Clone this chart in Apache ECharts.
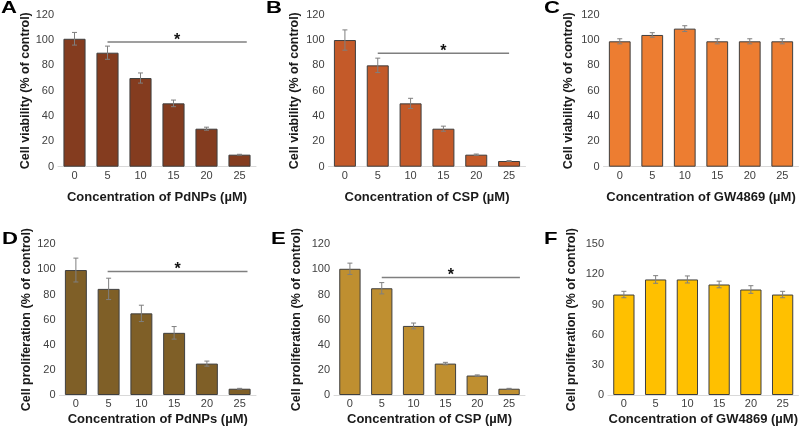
<!DOCTYPE html>
<html>
<head>
<meta charset="utf-8">
<script src="https://cdn.jsdelivr.net/npm/echarts@6/dist/echarts.min.js"></script>
<style>
html,body{margin:0;padding:0;background:#fff;}
#chart{width:800px;height:427px;}
</style>
</head>
<body>
<div id="chart"></div>
<script>
// ---- data ----
const categories = ['0', '5', '10', '15', '20', '25'];

const valuesA = [101, 90, 70, 50, 30, 9.5];
const errorsA = [5, 5.2, 4, 2.6, 1.2, 0.3];
const valuesB = [100, 80, 50, 30, 9.5, 4.5];
const errorsB = [8, 5.7, 4, 2, 0.5, 0.3];
const valuesC = [99, 104, 109, 99, 99, 99];
const errorsC = [2, 1.8, 2.3, 2, 2, 2];
const valuesD = [99.5, 84.5, 65, 49.5, 25, 5];
const errorsD = [9.5, 8.5, 6.5, 5, 2, 0.3];
const valuesE = [100.5, 85, 55, 25, 15.5, 5];
const errorsE = [4.5, 4.5, 2.3, 1, 0.5, 0.3];
const valuesF = [100, 115, 115, 110, 105, 100];
const errorsF = [3.2, 3.8, 3.5, 3.3, 3.8, 3.2];

// significance brackets: [start category, end category, height]
const sigA = [1, 5.22, 98.4];
const sigB = [1, 5.0, 89.5];
const sigD = [0.97, 5.24, 98.3];
const sigE = [1, 5.34, 93.5];

const yTicksTop = [0, 20, 40, 60, 80, 100, 120];
const yTicksF = [0, 30, 60, 90, 120, 150];

const yNameViability = 'Cell viability (% of control)';
const yNameProliferation = 'Cell proliferation (% of control)';
const xNames = ['Concentration of PdNPs (µM)', 'Concentration of CSP (µM)', 'Concentration of GW4869 (µM)'];
const panelLetters = ['A', 'B', 'C', 'D', 'E', 'F'];

// ---- layout / style ----
const FONT = '"Liberation Sans", Arial, Helvetica, sans-serif';
const panels = [
  {vals: valuesA, errs: errorsA, sig: sigA, color: '#843C1F', yName: yNameViability, xName: xNames[0], ticks: yTicksTop,
   grid: {left: 58, top: 14.7, width: 198, height: 152}, yGap: 25, xGap: 24, lblMargin: 4},
  {vals: valuesB, errs: errorsB, sig: sigB, color: '#C45A29', yName: yNameViability, xName: xNames[1], ticks: yTicksTop,
   grid: {left: 328.5, top: 14.7, width: 197, height: 152}, yGap: 27, xGap: 24, lblMargin: 4},
  {vals: valuesC, errs: errorsC, sig: null, color: '#ED7D31', yName: yNameViability, xName: xNames[2], ticks: yTicksTop,
   grid: {left: 603.5, top: 14.7, width: 195, height: 152}, yGap: 28, xGap: 24, lblMargin: 4},
  {vals: valuesD, errs: errorsD, sig: sigD, color: '#7F5F27', yName: yNameProliferation, xName: xNames[0], ticks: yTicksTop,
   grid: {left: 59.5, top: 244.3, width: 196.5, height: 151.4}, yGap: 25.5, xGap: 18, lblMargin: 3},
  {vals: valuesE, errs: errorsE, sig: sigE, color: '#BF8F30', yName: yNameProliferation, xName: xNames[1], ticks: yTicksTop,
   grid: {left: 334, top: 244.3, width: 191, height: 151.4}, yGap: 31, xGap: 18, lblMargin: 3},
  {vals: valuesF, errs: errorsF, sig: null, color: '#FFC000', yName: yNameProliferation, xName: xNames[2], ticks: yTicksF,
   grid: {left: 608, top: 244.3, width: 191, height: 151.4}, yGap: 30, xGap: 18, lblMargin: 3}
];
const letterPos = [[1, 0], [266, 0], [544, 0], [2, 231], [271, 231], [544, 231]];

const grids = [], xAxes = [], yAxes = [], series = [];

function errRender(params, api) {
  const i = api.value(0), m = api.value(1), e = api.value(2);
  const hi = api.coord([i, m + e]);
  const lo = api.coord([i, m - e]);
  const cap = 2.5;
  const st = {stroke: '#7F7F7F', lineWidth: 1};
  return {type: 'group', children: [
    {type: 'line', shape: {x1: hi[0], y1: hi[1], x2: lo[0], y2: lo[1]}, style: st},
    {type: 'line', shape: {x1: hi[0] - cap, y1: hi[1], x2: hi[0] + cap, y2: hi[1]}, style: st},
    {type: 'line', shape: {x1: lo[0] - cap, y1: lo[1], x2: lo[0] + cap, y2: lo[1]}, style: st}
  ]};
}

function sigRender(params, api) {
  const y = api.value(1), s = api.value(2), e = api.value(3);
  const p0 = api.coord([0, y]);
  const p1 = api.coord([1, y]);
  const bw = p1[0] - p0[0];
  const x0 = p0[0] + s * bw, x1 = p0[0] + e * bw;
  return {type: 'group', children: [
    {type: 'line', shape: {x1: x0, y1: p0[1], x2: x1, y2: p0[1]}, style: {stroke: '#7F7F7F', lineWidth: 1.5}},
    {type: 'text', style: {text: '*', x: (x0 + x1) / 2, y: p0[1] - 1.5, align: 'center', verticalAlign: 'middle',
      font: 'bold 16px ' + FONT, fill: '#111'}}
  ]};
}

panels.forEach((p, k) => {
  grids.push(Object.assign({}, p.grid));
  xAxes.push({
    type: 'category', gridIndex: k, data: categories,
    axisLine: {lineStyle: {color: '#D9D9D9', width: 1}},
    axisTick: {show: false},
    axisLabel: {color: '#404040', fontSize: 11, fontFamily: FONT, margin: p.lblMargin},
    name: p.xName, nameLocation: 'middle', nameGap: p.xGap,
    nameTextStyle: {color: '#1a1a1a', fontSize: 13, fontWeight: 'bold', fontFamily: FONT}
  });
  const t = p.ticks;
  yAxes.push({
    type: 'value', gridIndex: k, min: t[0], max: t[t.length - 1], interval: t[1] - t[0],
    axisLine: {show: false}, axisTick: {show: false}, splitLine: {show: false},
    axisLabel: {color: '#404040', fontSize: 11, fontFamily: FONT, margin: 4},
    name: p.yName, nameLocation: 'middle', nameGap: p.yGap, nameRotate: 90,
    nameTextStyle: {color: '#1a1a1a', fontSize: 12.5, fontWeight: 'bold', fontFamily: FONT}
  });
  series.push({
    type: 'bar', xAxisIndex: k, yAxisIndex: k, data: p.vals, barCategoryGap: '33%',
    itemStyle: {color: p.color, borderColor: '#3F3F3F', borderWidth: 1},
    animation: false, z: 2
  });
  series.push({
    type: 'custom', xAxisIndex: k, yAxisIndex: k, renderItem: errRender,
    data: p.vals.map((v, i) => [i, v, p.errs[i]]), encode: {x: 0, y: 1},
    animation: false, z: 5, clip: false
  });
  if (p.sig) {
    series.push({
      type: 'custom', xAxisIndex: k, yAxisIndex: k, renderItem: sigRender,
      data: [[0, p.sig[2], p.sig[0], p.sig[1]]], encode: {x: 0, y: 1},
      animation: false, z: 6, clip: false
    });
  }
});

const graphics = panelLetters.map((L, k) => ({
  type: 'text', x: letterPos[k][0], y: letterPos[k][1], scaleX: 1.3,
  style: {text: L, x: 0, y: 0, font: 'bold 17px ' + FONT, fill: '#000', verticalAlign: 'top', align: 'left'}
}));

const chart = echarts.init(document.getElementById('chart'), null, {renderer: 'canvas'});
chart.setOption({
  animation: false,
  backgroundColor: '#fff',
  grid: grids, xAxis: xAxes, yAxis: yAxes, series: series, graphic: graphics
});
</script>
</body>
</html>
